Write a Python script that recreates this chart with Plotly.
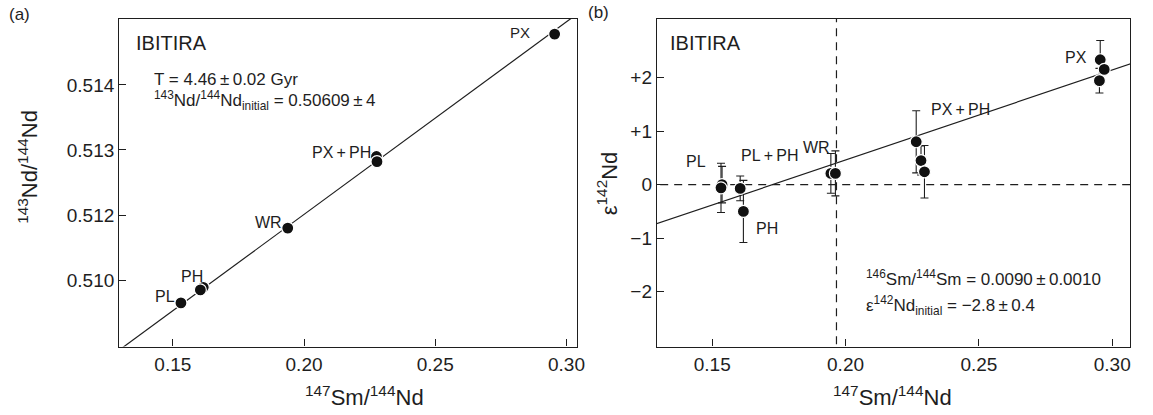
import numpy as np
import plotly.graph_objects as go

W, H = 1153, 415

# ---------------- data: panel (a) 147Sm/144Nd vs 143Nd/144Nd ----------------
a_labels = ["PX", "PX+PH (b)", "PX+PH", "WR", "PH (b)", "PH", "PL"]
a_sm_nd = [0.2955, 0.2276, 0.2278, 0.1938, 0.1616, 0.1605, 0.1531]
a_nd143 = [0.51478, 0.51290, 0.51282, 0.51180, 0.51089, 0.51085, 0.51065]
age_gyr = 4.46
nd_initial = 0.50609
lambda_147 = 6.54e-12

a_yticks = [0.511, 0.512, 0.513, 0.514]
a_yticktext = ["0.510", "0.512", "0.513", "0.514"]
x_ticks = [0.15, 0.20, 0.25, 0.30]
x_ticktext = ["0.15", "0.20", "0.25", "0.30"]

# ---------------- data: panel (b) 147Sm/144Nd vs epsilon 142Nd ----------------
b_labels = ["PL (b)", "PL", "PL+PH", "PH", "WR (b)", "WR",
            "PX+PH 1", "PX+PH 2", "PX+PH 3", "PX 1", "PX 2", "PX 3"]
b_sm_nd = [0.1537, 0.1533, 0.1605, 0.1617, 0.1945, 0.1962,
           0.2265, 0.2283, 0.2296, 0.2955, 0.2970, 0.2952]
b_eps = [0.00, -0.06, -0.07, -0.50, 0.21, 0.21,
         0.80, 0.45, 0.24, 2.33, 2.15, 1.94]
b_err = [0.34, 0.46, 0.23, 0.58, 0.37, 0.42,
         0.58, 0.27, 0.49, 0.36, 0.0, 0.23]
b_slope = 16.8
b_intercept = -2.90
b_vline = 0.1966
b_yticks = [-2, -1, 0, 1, 2]
b_yticktext = ["\u22122", "\u22121", "0", "+1", "+2"]

# ---------------- styling ----------------
FONT = "Liberation Sans, Arial, Helvetica, sans-serif"
INK = "#1e1e1e"


def px(x, y):
    return x / W, 1 - y / H


fig = go.Figure()

# panel (a) isochrone
slope_a = np.exp(lambda_147 * age_gyr * 1e9) - 1
xa = np.array([0.125, 0.31])
fig.add_trace(go.Scatter(x=xa, y=nd_initial + slope_a * xa, mode="lines",
                         line=dict(color=INK, width=1.2),
                         xaxis="x", yaxis="y", showlegend=False, hoverinfo="skip"))
fig.add_trace(go.Scatter(x=a_sm_nd, y=a_nd143, mode="markers", text=a_labels,
                         marker=dict(size=12, color="#111111",
                                     line=dict(color="white", width=1.2)),
                         xaxis="x", yaxis="y", showlegend=False))

# panel (b) reference lines
fig.add_trace(go.Scatter(x=[0.12, 0.32], y=[0, 0], mode="lines",
                         line=dict(color=INK, width=1.2, dash="8px,6px"),
                         xaxis="x2", yaxis="y2", showlegend=False, hoverinfo="skip"))
fig.add_trace(go.Scatter(x=[b_vline, b_vline], y=[-3.5, 3.5], mode="lines",
                         line=dict(color=INK, width=1.2, dash="8px,6px"),
                         xaxis="x2", yaxis="y2", showlegend=False, hoverinfo="skip"))
xb = np.array([0.12, 0.32])
fig.add_trace(go.Scatter(x=xb, y=b_intercept + b_slope * xb, mode="lines",
                         line=dict(color=INK, width=1.2),
                         xaxis="x2", yaxis="y2", showlegend=False, hoverinfo="skip"))
fig.add_trace(go.Scatter(x=b_sm_nd, y=b_eps, mode="markers", text=b_labels,
                         error_y=dict(type="data", array=b_err, color=INK,
                                      thickness=1.1, width=4),
                         marker=dict(size=12, color="#111111",
                                     line=dict(color="white", width=1.2)),
                         xaxis="x2", yaxis="y2", showlegend=False))

axis_common = dict(showline=True, linecolor=INK, linewidth=1.4, mirror=True,
                   ticks="inside", ticklen=7, tickwidth=1.2, tickcolor=INK,
                   showgrid=False, zeroline=False,
                   tickfont=dict(family=FONT, size=19, color=INK))

y_top, y_bot = 18.5, 346.5
fig.update_layout(
    width=W, height=H,
    margin=dict(l=0, r=0, t=0, b=0),
    paper_bgcolor="white", plot_bgcolor="white",
    xaxis=dict(domain=[120 / W, 581 / W], range=[0.1296, 0.3042],
               tickvals=x_ticks, ticktext=x_ticktext, anchor="y", **axis_common),
    yaxis=dict(domain=[1 - y_bot / H, 1 - y_top / H], range=[0.50998, 0.51502],
               tickvals=a_yticks, ticktext=a_yticktext, anchor="x", **axis_common),
    xaxis2=dict(domain=[661 / W, 1137 / W], range=[0.1293, 0.3067],
                tickvals=x_ticks, ticktext=x_ticktext, anchor="y2", **axis_common),
    yaxis2=dict(domain=[1 - y_bot / H, 1 - y_top / H], range=[-3.02, 3.10],
                tickvals=b_yticks, ticktext=b_yticktext, anchor="x2", **axis_common),
)

ann = []


def text(x, y, s, size=16, anchor="left", angle=0):
    X, Y = px(x, y)
    ann.append(dict(x=X, y=Y, xref="paper", yref="paper", text=s, showarrow=False,
                    xanchor=anchor, yanchor="middle", textangle=angle,
                    font=dict(family=FONT, size=size, color=INK)))


# panel labels
text(7, 14, "(a)", 17)
text(590, 13, "(b)", 17)

# axis titles
text(367, 396, "<sup>147</sup>Sm/<sup>144</sup>Nd", 22, "center")
text(898, 396, "<sup>147</sup>Sm/<sup>144</sup>Nd", 22, "center")
text(28, 167, "<sup>143</sup>Nd/<sup>144</sup>Nd", 22, "center", -90)
text(611, 183, "\u03b5<sup>142</sup>Nd", 22, "center", -90)

# panel (a) texts
text(135, 43, "IBITIRA", 20)
text(153, 79, "T = 4.46\u2009\u00b1\u20090.02 Gyr", 17)
text(153, 101, "<sup>143</sup>Nd/<sup>144</sup>Nd<sub>initial</sub> = 0.50609\u2009\u00b1\u20094", 17)
text(535, 32, "PX", 15, "right")
text(312, 152, "PX\u2009+\u2009PH", 16)
text(255, 222, "WR", 16)
text(180, 276, "PH", 16)
text(154, 296, "PL", 16)

# panel (b) texts
text(672, 43, "IBITIRA", 20)
text(1069, 57, "PX", 16)
text(935, 109, "PX\u2009+\u2009PH", 16)
text(806, 147, "WR", 16)
text(744, 155, "PL\u2009+\u2009PH", 16)
text(688, 161, "PL", 16)
text(759, 228, "PH", 16)
text(869, 278, "<sup>146</sup>Sm/<sup>144</sup>Sm = 0.0090\u2009\u00b1\u20090.0010", 17)
text(869, 305, "\u03b5<sup>142</sup>Nd<sub>initial</sub> = \u22122.8\u2009\u00b1\u20090.4", 17)

fig.update_layout(annotations=ann)
fig.write_html("out.html")
